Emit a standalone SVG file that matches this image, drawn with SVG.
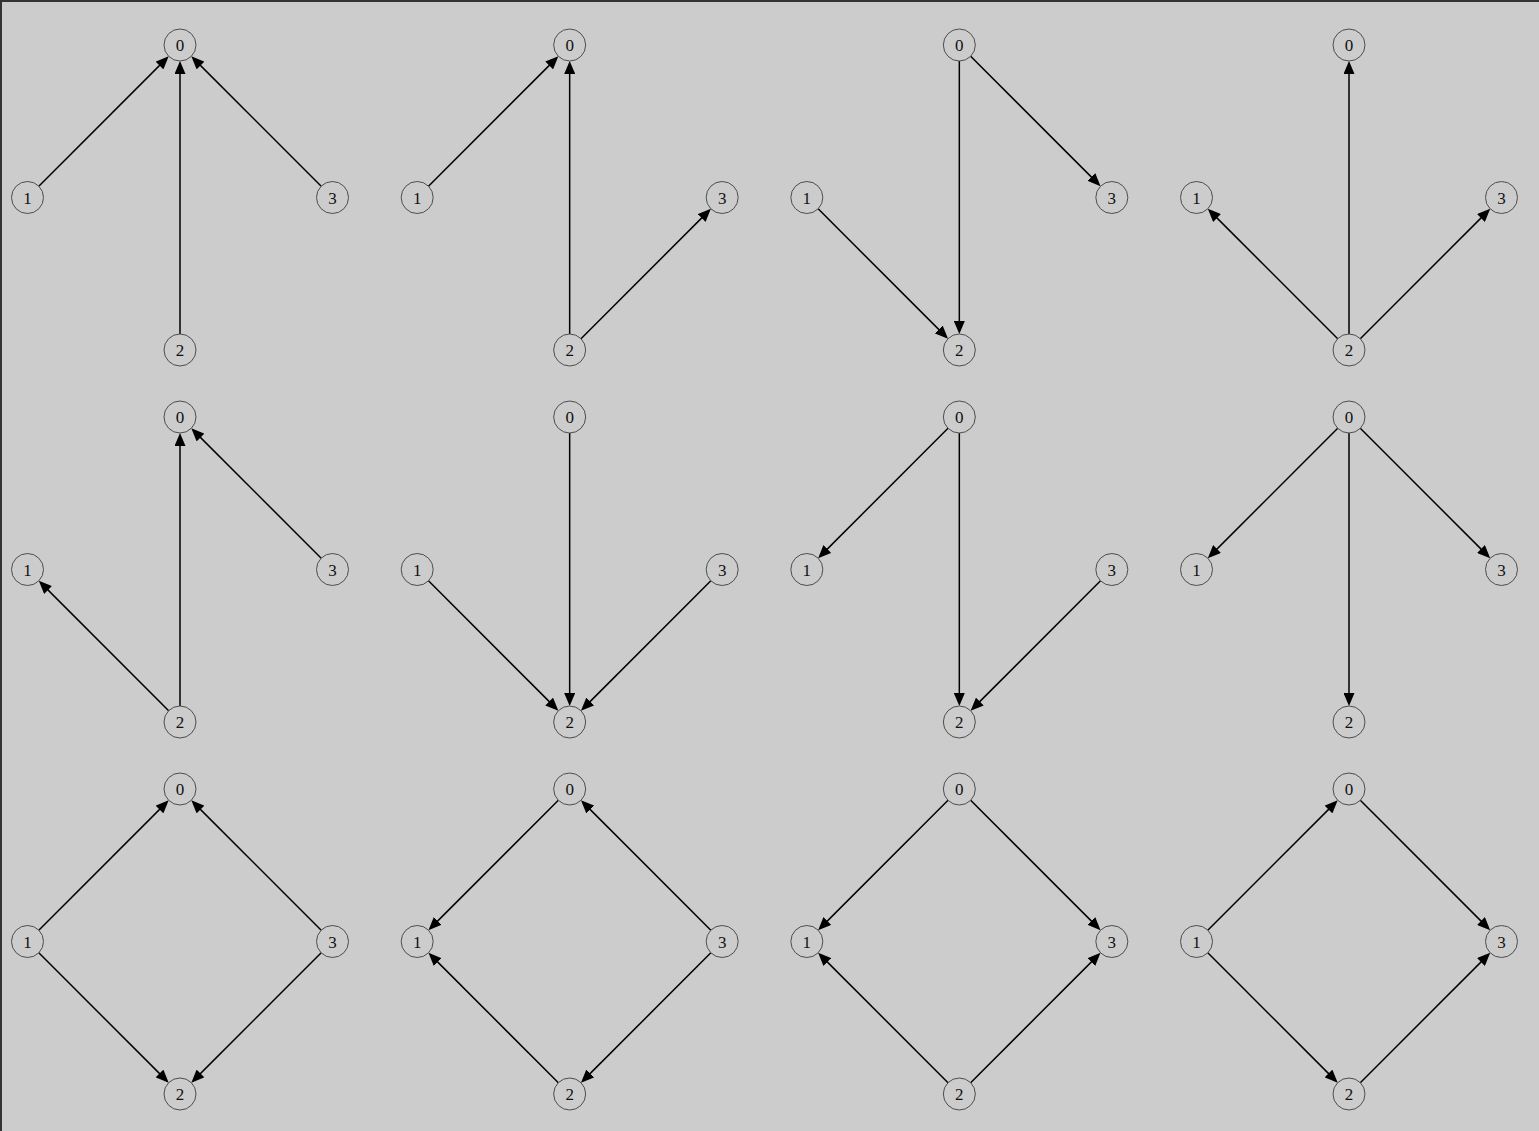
<svg xmlns="http://www.w3.org/2000/svg" width="1539" height="1131" viewBox="0 0 1539 1131">
<style>
.n circle{fill:#cccccc;stroke:#4d4d4d;stroke-width:1}
.n text{font-family:"Liberation Serif","DejaVu Serif",serif;font-size:17px;text-anchor:middle;fill:#111}
.e line{stroke:#000;stroke-width:1.5;marker-end:url(#ah)}
</style>
<defs>
<marker id="ah" markerUnits="userSpaceOnUse" markerWidth="13" markerHeight="11" refX="3" refY="5.5" orient="auto"><path d="M0,0 L13,5.5 L0,11 z" fill="#000"/></marker>
</defs>
<rect x="0" y="0" width="1539" height="1131" fill="#cccccc"/>
<path d="M1,1131 V1 H1539" fill="none" stroke="#333" stroke-width="2"/>

<g id="p1" transform="translate(180,45)">
<g class="e" id="p1-edges">
<line x1="-141.19" y1="141.19" x2="-18.385" y2="18.385"/>
<line x1="0" y1="289" x2="0" y2="26"/>
<line x1="141.19" y1="141.19" x2="18.385" y2="18.385"/>
</g>
<g class="n" id="p1-n0"><circle cx="0" cy="0" r="16"/><text x="0" y="6">0</text></g>
<g class="n" id="p1-n1"><circle cx="-152.5" cy="152.5" r="16"/><text x="-152.5" y="158.5">1</text></g>
<g class="n" id="p1-n2"><circle cx="0" cy="305" r="16"/><text x="0" y="311">2</text></g>
<g class="n" id="p1-n3"><circle cx="152.5" cy="152.5" r="16"/><text x="152.5" y="158.5">3</text></g>
</g>

<g id="p2" transform="translate(569.67,45)">
<g class="e" id="p2-edges">
<line x1="-141.19" y1="141.19" x2="-18.385" y2="18.385"/>
<line x1="0" y1="289" x2="0" y2="26"/>
<line x1="11.31" y1="293.69" x2="134.115" y2="170.885"/>
</g>
<g class="n" id="p2-n0"><circle cx="0" cy="0" r="16"/><text x="0" y="6">0</text></g>
<g class="n" id="p2-n1"><circle cx="-152.5" cy="152.5" r="16"/><text x="-152.5" y="158.5">1</text></g>
<g class="n" id="p2-n2"><circle cx="0" cy="305" r="16"/><text x="0" y="311">2</text></g>
<g class="n" id="p2-n3"><circle cx="152.5" cy="152.5" r="16"/><text x="152.5" y="158.5">3</text></g>
</g>

<g id="p3" transform="translate(959.33,45)">
<g class="e" id="p3-edges">
<line x1="11.31" y1="11.31" x2="134.115" y2="134.115"/>
<line x1="0" y1="16" x2="0" y2="279"/>
<line x1="-141.19" y1="163.81" x2="-18.385" y2="286.615"/>
</g>
<g class="n" id="p3-n0"><circle cx="0" cy="0" r="16"/><text x="0" y="6">0</text></g>
<g class="n" id="p3-n1"><circle cx="-152.5" cy="152.5" r="16"/><text x="-152.5" y="158.5">1</text></g>
<g class="n" id="p3-n2"><circle cx="0" cy="305" r="16"/><text x="0" y="311">2</text></g>
<g class="n" id="p3-n3"><circle cx="152.5" cy="152.5" r="16"/><text x="152.5" y="158.5">3</text></g>
</g>

<g id="p4" transform="translate(1349,45)">
<g class="e" id="p4-edges">
<line x1="-11.31" y1="293.69" x2="-134.115" y2="170.885"/>
<line x1="0" y1="289" x2="0" y2="26"/>
<line x1="11.31" y1="293.69" x2="134.115" y2="170.885"/>
</g>
<g class="n" id="p4-n0"><circle cx="0" cy="0" r="16"/><text x="0" y="6">0</text></g>
<g class="n" id="p4-n1"><circle cx="-152.5" cy="152.5" r="16"/><text x="-152.5" y="158.5">1</text></g>
<g class="n" id="p4-n2"><circle cx="0" cy="305" r="16"/><text x="0" y="311">2</text></g>
<g class="n" id="p4-n3"><circle cx="152.5" cy="152.5" r="16"/><text x="152.5" y="158.5">3</text></g>
</g>

<g id="p5" transform="translate(180,417)">
<g class="e" id="p5-edges">
<line x1="-11.31" y1="293.69" x2="-134.115" y2="170.885"/>
<line x1="0" y1="289" x2="0" y2="26"/>
<line x1="141.19" y1="141.19" x2="18.385" y2="18.385"/>
</g>
<g class="n" id="p5-n0"><circle cx="0" cy="0" r="16"/><text x="0" y="6">0</text></g>
<g class="n" id="p5-n1"><circle cx="-152.5" cy="152.5" r="16"/><text x="-152.5" y="158.5">1</text></g>
<g class="n" id="p5-n2"><circle cx="0" cy="305" r="16"/><text x="0" y="311">2</text></g>
<g class="n" id="p5-n3"><circle cx="152.5" cy="152.5" r="16"/><text x="152.5" y="158.5">3</text></g>
</g>

<g id="p6" transform="translate(569.67,417)">
<g class="e" id="p6-edges">
<line x1="0" y1="16" x2="0" y2="279"/>
<line x1="-141.19" y1="163.81" x2="-18.385" y2="286.615"/>
<line x1="141.19" y1="163.81" x2="18.385" y2="286.615"/>
</g>
<g class="n" id="p6-n0"><circle cx="0" cy="0" r="16"/><text x="0" y="6">0</text></g>
<g class="n" id="p6-n1"><circle cx="-152.5" cy="152.5" r="16"/><text x="-152.5" y="158.5">1</text></g>
<g class="n" id="p6-n2"><circle cx="0" cy="305" r="16"/><text x="0" y="311">2</text></g>
<g class="n" id="p6-n3"><circle cx="152.5" cy="152.5" r="16"/><text x="152.5" y="158.5">3</text></g>
</g>

<g id="p7" transform="translate(959.33,417)">
<g class="e" id="p7-edges">
<line x1="-11.31" y1="11.31" x2="-134.115" y2="134.115"/>
<line x1="0" y1="16" x2="0" y2="279"/>
<line x1="141.19" y1="163.81" x2="18.385" y2="286.615"/>
</g>
<g class="n" id="p7-n0"><circle cx="0" cy="0" r="16"/><text x="0" y="6">0</text></g>
<g class="n" id="p7-n1"><circle cx="-152.5" cy="152.5" r="16"/><text x="-152.5" y="158.5">1</text></g>
<g class="n" id="p7-n2"><circle cx="0" cy="305" r="16"/><text x="0" y="311">2</text></g>
<g class="n" id="p7-n3"><circle cx="152.5" cy="152.5" r="16"/><text x="152.5" y="158.5">3</text></g>
</g>

<g id="p8" transform="translate(1349,417)">
<g class="e" id="p8-edges">
<line x1="-11.31" y1="11.31" x2="-134.115" y2="134.115"/>
<line x1="0" y1="16" x2="0" y2="279"/>
<line x1="11.31" y1="11.31" x2="134.115" y2="134.115"/>
</g>
<g class="n" id="p8-n0"><circle cx="0" cy="0" r="16"/><text x="0" y="6">0</text></g>
<g class="n" id="p8-n1"><circle cx="-152.5" cy="152.5" r="16"/><text x="-152.5" y="158.5">1</text></g>
<g class="n" id="p8-n2"><circle cx="0" cy="305" r="16"/><text x="0" y="311">2</text></g>
<g class="n" id="p8-n3"><circle cx="152.5" cy="152.5" r="16"/><text x="152.5" y="158.5">3</text></g>
</g>

<g id="p9" transform="translate(180,789)">
<g class="e" id="p9-edges">
<line x1="-141.19" y1="141.19" x2="-18.385" y2="18.385"/>
<line x1="141.19" y1="141.19" x2="18.385" y2="18.385"/>
<line x1="-141.19" y1="163.81" x2="-18.385" y2="286.615"/>
<line x1="141.19" y1="163.81" x2="18.385" y2="286.615"/>
</g>
<g class="n" id="p9-n0"><circle cx="0" cy="0" r="16"/><text x="0" y="6">0</text></g>
<g class="n" id="p9-n1"><circle cx="-152.5" cy="152.5" r="16"/><text x="-152.5" y="158.5">1</text></g>
<g class="n" id="p9-n2"><circle cx="0" cy="305" r="16"/><text x="0" y="311">2</text></g>
<g class="n" id="p9-n3"><circle cx="152.5" cy="152.5" r="16"/><text x="152.5" y="158.5">3</text></g>
</g>

<g id="p10" transform="translate(569.67,789)">
<g class="e" id="p10-edges">
<line x1="-11.31" y1="11.31" x2="-134.115" y2="134.115"/>
<line x1="141.19" y1="141.19" x2="18.385" y2="18.385"/>
<line x1="-11.31" y1="293.69" x2="-134.115" y2="170.885"/>
<line x1="141.19" y1="163.81" x2="18.385" y2="286.615"/>
</g>
<g class="n" id="p10-n0"><circle cx="0" cy="0" r="16"/><text x="0" y="6">0</text></g>
<g class="n" id="p10-n1"><circle cx="-152.5" cy="152.5" r="16"/><text x="-152.5" y="158.5">1</text></g>
<g class="n" id="p10-n2"><circle cx="0" cy="305" r="16"/><text x="0" y="311">2</text></g>
<g class="n" id="p10-n3"><circle cx="152.5" cy="152.5" r="16"/><text x="152.5" y="158.5">3</text></g>
</g>

<g id="p11" transform="translate(959.33,789)">
<g class="e" id="p11-edges">
<line x1="-11.31" y1="11.31" x2="-134.115" y2="134.115"/>
<line x1="11.31" y1="11.31" x2="134.115" y2="134.115"/>
<line x1="-11.31" y1="293.69" x2="-134.115" y2="170.885"/>
<line x1="11.31" y1="293.69" x2="134.115" y2="170.885"/>
</g>
<g class="n" id="p11-n0"><circle cx="0" cy="0" r="16"/><text x="0" y="6">0</text></g>
<g class="n" id="p11-n1"><circle cx="-152.5" cy="152.5" r="16"/><text x="-152.5" y="158.5">1</text></g>
<g class="n" id="p11-n2"><circle cx="0" cy="305" r="16"/><text x="0" y="311">2</text></g>
<g class="n" id="p11-n3"><circle cx="152.5" cy="152.5" r="16"/><text x="152.5" y="158.5">3</text></g>
</g>

<g id="p12" transform="translate(1349,789)">
<g class="e" id="p12-edges">
<line x1="-141.19" y1="141.19" x2="-18.385" y2="18.385"/>
<line x1="11.31" y1="11.31" x2="134.115" y2="134.115"/>
<line x1="-141.19" y1="163.81" x2="-18.385" y2="286.615"/>
<line x1="11.31" y1="293.69" x2="134.115" y2="170.885"/>
</g>
<g class="n" id="p12-n0"><circle cx="0" cy="0" r="16"/><text x="0" y="6">0</text></g>
<g class="n" id="p12-n1"><circle cx="-152.5" cy="152.5" r="16"/><text x="-152.5" y="158.5">1</text></g>
<g class="n" id="p12-n2"><circle cx="0" cy="305" r="16"/><text x="0" y="311">2</text></g>
<g class="n" id="p12-n3"><circle cx="152.5" cy="152.5" r="16"/><text x="152.5" y="158.5">3</text></g>
</g>
</svg>
